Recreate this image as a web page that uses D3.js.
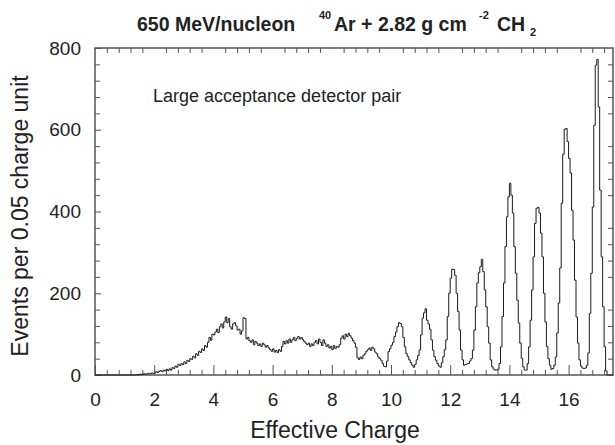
<!DOCTYPE html>
<html lang="en">
<head>
<meta charset="utf-8">
<title>Effective charge spectrum</title>
<script src="https://d3js.org/d3.v7.min.js"></script>
<style>
  body { margin: 0; background: #fff; }
  text { font-family: "Liberation Sans", Arial, Helvetica, sans-serif; fill: #222; }
  .axis path { display: none; }
  .axis line { stroke: #555; stroke-width: 1; }
  .axis text { font-size: 19px; fill: #222; font-family: "Liberation Sans", Arial, sans-serif; }
</style>
</head>
<body>
<div id="chart"></div>
<script>
// histogram: events per 0.05 charge unit, bins from 0 to 17.5
const binWidth = 0.05;
const counts = [
  // 0.0 - 1.4
  0,0,0,0,0,0,0,0,0,0, 0,0,0,0,0,0,0,0,0,0, 0,0,0,0,0,0,0,0,
  // 1.4 - 2.0
  1,0,2,1,2,3,2,3,4,3,5,4,
  // 2.0 - 3.0
  5,8,6,9,11,8,12,10,14,11,
  15,12,18,16,22,19,26,23,28,25,
  // 3.0 - 4.0
  32,28,36,33,40,38,46,42,52,48,
  58,55,64,60,72,68,80,92,85,100,
  // 4.0 - 5.1
  98,105,112,104,118,125,115,130,142,128,
  138,118,112,125,128,120,110,112,100,108,
  140,138,
  // 5.1 - 6.3
  88,92,84,80,86,74,82,78,
  72,76,70,78,74,68,72,66,
  62,58,64,56,60,55,62,58,
  // 6.3 - 7.45
  70,82,76,84,78,88,80,86,92,84,
  90,94,88,92,86,82,78,
  74,78,70,76,72,80,
  // 7.45 - 8.75
  84,76,88,80,72,86,78,70,
  74,66,70,62,72,65,70,68,74,
  90,96,88,100,94,102,96,90,84,
  // 8.75 - 9.5
  78,68,
  42,38,44,40,48,52,
  58,62,66,60,68,64,56,
  // 9.5 - 10.0
  52,44,40,36,28,21,20,34,57,64,
  // 10.0 - 10.5  (Z = 10)
  73,80,94,105,118,128,126,118,92,69,
  // 10.5 - 11.0
  52,45,37,30,24,19,26,37,48,61,
  // 11.0 - 11.5  (Z = 11)
  98,139,152,162,134,125,112,86,61,45,
  // 11.5 - 12.0
  36,28,22,19,30,45,62,86,143,200,
  // 12.0 - 12.5  (Z = 12)
  237,259,258,244,200,155,110,61,37,24,
  // 12.5 - 13.0
  26,27,28,34,40,61,110,167,225,250,
  // 13.0 - 13.5  (Z = 13)
  265,283,253,208,167,118,78,37,20,14,
  // 13.5 - 14.0
  12,12,14,28,69,143,225,314,387,436,
  // 14.0 - 14.5  (Z = 14)
  469,440,396,314,249,183,127,78,41,20,
  // 14.5 - 15.0
  12,12,28,69,134,208,289,371,408,410,
  // 15.0 - 15.5  (Z = 15)
  396,347,289,200,130,70,40,24,14,16,
  // 15.5 - 16.0
  24,44,103,176,262,420,540,601,603,571,
  // 16.0 - 16.5  (Z = 16)
  530,494,403,330,232,142,78,37,22,17,
  // 16.5 - 17.0
  16,17,24,54,151,249,411,611,758,772,
  // 17.0 - 17.5  (Z = 17)
  656,452,289,167,69,10,0,0,0,0
];

const xDomain = [0, 17.5];
const yDomain = [0, 800];
const xMajorTicks = [0, 2, 4, 6, 8, 10, 12, 14, 16];
const xMinorStep = 0.4;
const yMajorTicks = [0, 200, 400, 600, 800];
const yMinorStep = 40;

const width = 615, height = 445;
const m = { left: 95, right: 613, top: 48, bottom: 375 };

const svg = d3.select("#chart").append("svg")
  .attr("width", width)
  .attr("height", height);

const x = d3.scaleLinear().domain(xDomain).range([m.left, m.right]);
const y = d3.scaleLinear().domain(yDomain).range([m.bottom, m.top]);

const xMinor = d3.range(0, 17.5 + 1e-9, xMinorStep).filter(v => Math.abs(v / 2 - Math.round(v / 2)) > 1e-6);
const yMinor = d3.range(0, 800 + 1e-9, yMinorStep).filter(v => v % 200 !== 0);

// bottom axis: major with labels, minor without
svg.append("g").attr("class", "axis")
  .attr("transform", `translate(0,${m.bottom})`)
  .call(d3.axisBottom(x).tickValues(xMajorTicks).tickSize(-10).tickPadding(18).tickFormat(d3.format("d")));
svg.append("g").attr("class", "axis")
  .attr("transform", `translate(0,${m.bottom})`)
  .call(d3.axisBottom(x).tickValues(xMinor).tickSize(-5).tickFormat(""));
// top axis: minor only
svg.append("g").attr("class", "axis")
  .attr("transform", `translate(0,${m.top})`)
  .call(d3.axisTop(x).tickValues(xMinor).tickSize(-5).tickFormat(""));

// left axis
svg.append("g").attr("class", "axis")
  .attr("transform", `translate(${m.left},0)`)
  .call(d3.axisLeft(y).tickValues(yMajorTicks).tickSize(-6).tickPadding(14).tickFormat(d3.format("d")));
svg.append("g").attr("class", "axis")
  .attr("transform", `translate(${m.left},0)`)
  .call(d3.axisLeft(y).tickValues(yMinor).tickSize(-5).tickFormat(""));
// right axis: minor only
svg.append("g").attr("class", "axis")
  .attr("transform", `translate(${m.right},0)`)
  .call(d3.axisRight(y).tickValues(yMinor).tickSize(-5).tickFormat(""));

// frame
svg.append("rect")
  .attr("x", m.left).attr("y", m.top)
  .attr("width", m.right - m.left).attr("height", m.bottom - m.top)
  .attr("fill", "none").attr("stroke", "#555").attr("stroke-width", 1.5);

// histogram as step line
const pts = counts.map((v, i) => [i * binWidth, v]);
pts.push([counts.length * binWidth, counts[counts.length - 1]]);
const line = d3.line()
  .x(d => x(d[0]))
  .y(d => y(d[1]))
  .curve(d3.curveStepAfter);
svg.append("path")
  .datum(pts)
  .attr("d", line)
  .attr("fill", "none")
  .attr("stroke", "#1a1a1a")
  .attr("stroke-width", 1);

// title
const title = svg.append("text")
  .attr("y", 30.5)
  .attr("font-size", 19.5)
  .attr("font-weight", "bold");
title.append("tspan").attr("x", 137).text("650 MeV/nucleon");
title.append("tspan").attr("x", 319).attr("dy", -12).attr("font-size", 11).text("40");
title.append("tspan").attr("x", 334).attr("dy", 12).text("Ar + 2.82 g cm");
title.append("tspan").attr("x", 479).attr("dy", -12).attr("font-size", 11).text("-2");
title.append("tspan").attr("x", 497).attr("dy", 12).text("CH");
title.append("tspan").attr("x", 530).attr("dy", 5.5).attr("font-size", 11).text("2");

// annotation
svg.append("text")
  .attr("x", 153).attr("y", 102)
  .attr("font-size", 18)
  .text("Large acceptance detector pair");

// axis titles
svg.append("text")
  .attr("x", 335).attr("y", 438)
  .attr("text-anchor", "middle")
  .attr("font-size", 23)
  .text("Effective Charge");

svg.append("text")
  .attr("transform", "translate(28,216) rotate(-90)")
  .attr("text-anchor", "middle")
  .attr("font-size", 23)
  .text("Events per 0.05 charge unit");
</script>
</body>
</html>
